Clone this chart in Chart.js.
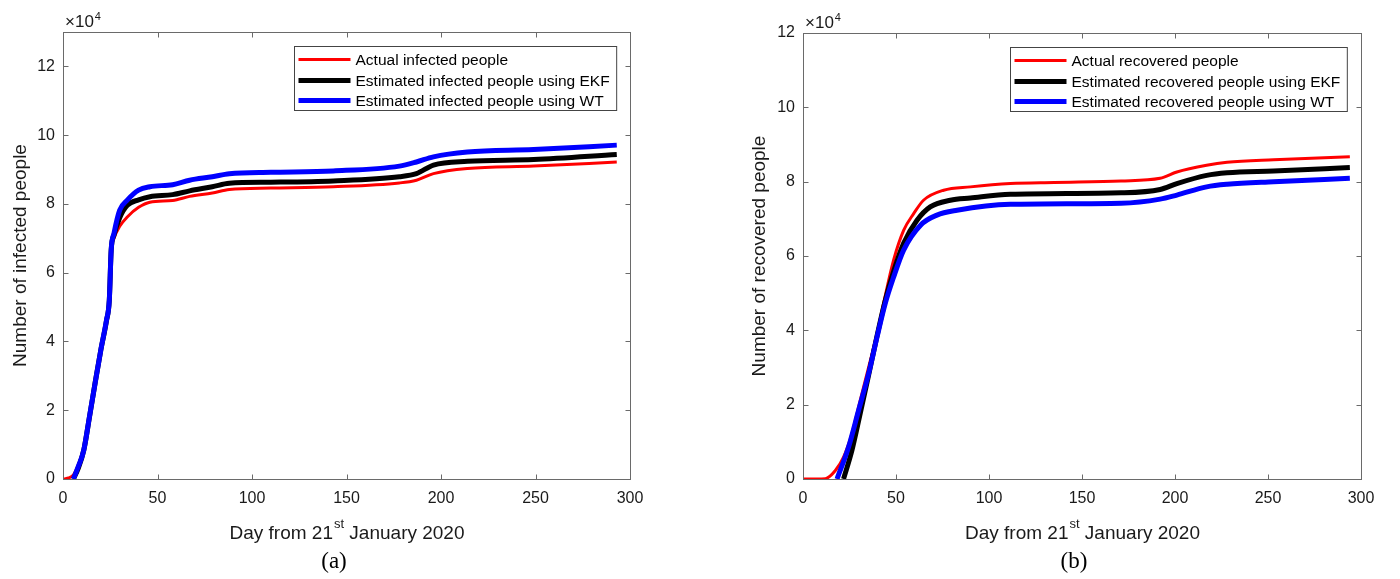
<!DOCTYPE html>
<html>
<head>
<meta charset="utf-8">
<script src="https://cdn.jsdelivr.net/npm/chart.js@4.4.1/dist/chart.umd.min.js"></script>
<style>
  html, body { margin: 0; padding: 0; background: #fff; }
  body { width: 1400px; height: 579px; position: relative; overflow: hidden; }
  canvas { position: absolute; top: 0; }
</style>
</head>
<body>
<canvas id="infChart" width="700" height="579" style="left:0"></canvas>
<canvas id="recChart" width="700" height="579" style="left:700px"></canvas>
<script>
// values are in units of 10^4 people, days counted from 21 January 2020
const infActualDays = [0.5, 3, 5.5, 8, 11, 14, 17, 20, 23, 24.5, 25.5, 27, 30, 34, 40, 46, 58, 67, 79, 88, 110, 143, 178, 187, 196, 214, 249, 293];
const infActual = [0, 0.03, 0.12, 0.4, 0.9, 1.8, 2.8, 3.75, 4.6, 5.2, 6.6, 7.0, 7.35, 7.62, 7.9, 8.05, 8.1, 8.22, 8.32, 8.42, 8.46, 8.5, 8.61, 8.69, 8.88, 9.03, 9.1, 9.22];
const infEstDays = [5.5, 8, 11, 14, 17, 20, 23, 24.5, 25.5, 27, 30, 34, 40, 46, 58, 67, 79, 88, 110, 143, 178, 187, 196, 214, 249, 293];
const infEkf = [0, 0.3, 0.84, 1.8, 2.8, 3.75, 4.6, 5.2, 6.66, 7.1, 7.6, 7.96, 8.12, 8.21, 8.27, 8.38, 8.5, 8.6, 8.63, 8.67, 8.79, 8.88, 9.13, 9.24, 9.29, 9.44];
const infWt = [0, 0.35, 0.84, 1.81, 2.79, 3.75, 4.62, 5.2, 6.66, 7.15, 7.82, 8.11, 8.4, 8.5, 8.56, 8.69, 8.79, 8.88, 8.92, 8.96, 9.1, 9.22, 9.37, 9.51, 9.58, 9.71];

const recActualDays = [0, 12, 17.4, 21.8, 26.3, 30.8, 35.3, 39.8, 43.3, 48.7, 54.1, 59.5, 64.8, 75.6, 90, 111.5, 135, 171, 192, 201, 217, 228, 253, 294];
const recActual = [0, 0.01, 0.23, 0.59, 1.22, 2.12, 3.01, 3.91, 4.72, 5.89, 6.69, 7.14, 7.5, 7.77, 7.86, 7.95, 7.98, 8.02, 8.09, 8.26, 8.44, 8.52, 8.59, 8.67];
const recEkfDays = [21.8, 26.3, 30.5, 35.3, 39.8, 44.2, 48.5, 54.1, 61.3, 68.4, 79.2, 90, 111.5, 171, 192, 201, 217, 228, 253, 294];
const recEkf = [0, 0.77, 1.7, 2.8, 3.85, 4.8, 5.55, 6.34, 6.96, 7.32, 7.5, 7.56, 7.66, 7.7, 7.79, 7.95, 8.17, 8.24, 8.29, 8.38];
const recWtDays = [18.3, 24.5, 29.9, 35.3, 39.8, 44.2, 48.5, 54.1, 63.2, 72, 82.8, 111.5, 171, 192, 201, 217, 228, 253, 294];
const recWt = [0, 0.86, 1.85, 2.84, 3.82, 4.72, 5.4, 6.16, 6.83, 7.1, 7.23, 7.39, 7.42, 7.53, 7.64, 7.86, 7.93, 8.0, 8.09];

const infLabels = ['Actual infected people', 'Estimated infected people using EKF', 'Estimated infected people using WT'];
const recLabels = ['Actual recovered people', 'Estimated recovered people using EKF', 'Estimated recovered people using WT'];

const xTicks = [0, 50, 100, 150, 200, 250, 300];
const SANS = '"Liberation Sans", Arial, Helvetica, sans-serif';
const AXIS_GRAY = '#6a6a6a';

function pts(days, vals) {
  return days.map((d, i) => ({ x: d, y: vals[i] }));
}

// MATLAB-like box, inward ticks, axis titles, legend and caption
const matlabLook = {
  id: 'matlabLook',
  afterDraw(chart, args, opts) {
    const ctx = chart.ctx;
    const a = chart.chartArea;
    const xs = chart.scales.x, ys = chart.scales.y;
    const L = Math.round(a.left) + 0.5, R = Math.round(a.right) + 0.5;
    const T = Math.round(a.top) + 0.5, B = Math.round(a.bottom) + 0.5;
    ctx.save();
    ctx.strokeStyle = AXIS_GRAY;
    ctx.lineWidth = 1;
    ctx.strokeRect(L, T, R - L, B - T);
    ctx.beginPath();
    xs.ticks.forEach(t => {
      const px = Math.round(xs.getPixelForValue(t.value)) + 0.5;
      ctx.moveTo(px, B); ctx.lineTo(px, B - 5);
      ctx.moveTo(px, T); ctx.lineTo(px, T + 5);
    });
    ys.ticks.forEach(t => {
      const py = Math.round(ys.getPixelForValue(t.value)) + 0.5;
      ctx.moveTo(L, py); ctx.lineTo(L + 5, py);
      ctx.moveTo(R, py); ctx.lineTo(R - 5, py);
    });
    ctx.stroke();

    // x10^4 multiplier
    ctx.fillStyle = '#1a1a1a';
    ctx.textBaseline = 'alphabetic';
    ctx.textAlign = 'left';
    ctx.font = '17px ' + SANS;
    const mx = a.left + 2, my = a.top - 5.5;
    ctx.fillText('\u00d710', mx, my);
    const w1 = ctx.measureText('\u00d710').width;
    ctx.font = '11px ' + SANS;
    ctx.fillText('4', mx + w1 + 1, my - 7);

    // x axis title with superscript
    const cx = (a.left + a.right) / 2;
    const part1 = 'Day from 21', sup = 'st', part2 = ' January 2020';
    ctx.font = '19px ' + SANS;
    const w1b = ctx.measureText(part1).width, w3 = ctx.measureText(part2).width;
    ctx.font = '13px ' + SANS;
    const w2 = ctx.measureText(sup).width;
    let sx = cx - (w1b + w2 + w3) / 2;
    const by = a.bottom + 60;
    ctx.font = '19px ' + SANS;
    ctx.fillText(part1, sx, by);
    ctx.font = '13px ' + SANS;
    ctx.fillText(sup, sx + w1b + 1, by - 11);
    ctx.font = '19px ' + SANS;
    ctx.fillText(part2, sx + w1b + w2 + 1, by);

    // y axis title
    ctx.save();
    ctx.translate(opts.yTitleX, (a.top + a.bottom) / 2);
    ctx.rotate(-Math.PI / 2);
    ctx.textAlign = 'center';
    ctx.textBaseline = 'middle';
    ctx.font = '19px ' + SANS;
    ctx.fillText(opts.yTitle, 0, 0);
    ctx.restore();

    // caption
    ctx.textAlign = 'center';
    ctx.font = '23px "Liberation Serif", "Times New Roman", serif';
    ctx.fillStyle = '#000';
    ctx.fillText(opts.caption, opts.captionX, 568);

    // legend box in the upper right corner
    ctx.textAlign = 'left';
    ctx.font = '15.5px ' + SANS;
    const ds = chart.data.datasets;
    const tw = Math.max(...ds.map(d => ctx.measureText(d.label).width));
    const bw = 61 + tw + 7, bh = 64;
    const bx = Math.round(a.right - 14 - bw) + 0.5, bt = Math.round(a.top + 14) + 0.5;
    ctx.fillStyle = '#fff';
    ctx.fillRect(bx, bt, bw, bh);
    ctx.strokeStyle = '#444';
    ctx.strokeRect(bx, bt, bw, bh);
    const rows = [13, 34, 54];
    ds.forEach((d, i) => {
      const ry = bt + rows[i];
      ctx.strokeStyle = d.borderColor;
      ctx.lineWidth = d.borderWidth;
      ctx.beginPath();
      ctx.moveTo(bx + 4, ry); ctx.lineTo(bx + 56, ry);
      ctx.stroke();
      ctx.fillStyle = '#000';
      ctx.textBaseline = 'middle';
      ctx.fillText(d.label, bx + 61, ry + 1);
    });
    ctx.restore();
  }
};

function makeChart(id, series, labels, yMax, layout, deco) {
  const colors = ['#ff0000', '#000000', '#0000ff'];
  const widths = [3, 5, 5];
  const ctx = document.getElementById(id).getContext('2d');
  return new Chart(ctx, {
    type: 'line',
    data: {
      datasets: series.map((s, i) => ({
        label: labels[i],
        data: pts(s[0], s[1]),
        borderColor: colors[i],
        backgroundColor: colors[i],
        borderWidth: widths[i],
        pointRadius: 0,
        fill: false,
        cubicInterpolationMode: 'monotone',
        order: 2 - i
      }))
    },
    options: {
      responsive: false,
      animation: false,
      devicePixelRatio: 1,
      layout: { padding: { top: layout.top, right: layout.right, left: 0, bottom: 0 } },
      plugins: {
        legend: { display: false },
        tooltip: { enabled: false },
        matlabLook: deco
      },
      scales: {
        x: {
          type: 'linear',
          min: 0,
          max: 300,
          afterBuildTicks: s => { s.ticks = xTicks.map(v => ({ value: v })); },
          afterFit: s => { s.height = 100; },
          grid: { display: false, drawTicks: false },
          border: { display: false },
          ticks: { padding: 10, color: '#1a1a1a', maxRotation: 0, font: { family: SANS, size: 16 } }
        },
        y: {
          min: 0,
          max: yMax,
          afterFit: s => { s.width = layout.left; },
          grid: { display: false, drawTicks: false },
          border: { display: false },
          ticks: { stepSize: 2, includeBounds: false, padding: 8, color: '#1a1a1a', font: { family: SANS, size: 16 } }
        }
      }
    },
    plugins: [matlabLook]
  });
}

makeChart('infChart',
  [[infActualDays, infActual], [infEstDays, infEkf], [infEstDays, infWt]],
  infLabels, 13,
  { top: 32, right: 70, left: 63 },
  { yTitle: 'Number of infected people', yTitleX: 21, caption: '(a)', captionX: 334 });

makeChart('recChart',
  [[recActualDays, recActual], [recEkfDays, recEkf], [recWtDays, recWt]],
  recLabels, 12,
  { top: 33, right: 39, left: 103 },
  { yTitle: 'Number of recovered people', yTitleX: 60, caption: '(b)', captionX: 374 });
</script>
</body>
</html>
